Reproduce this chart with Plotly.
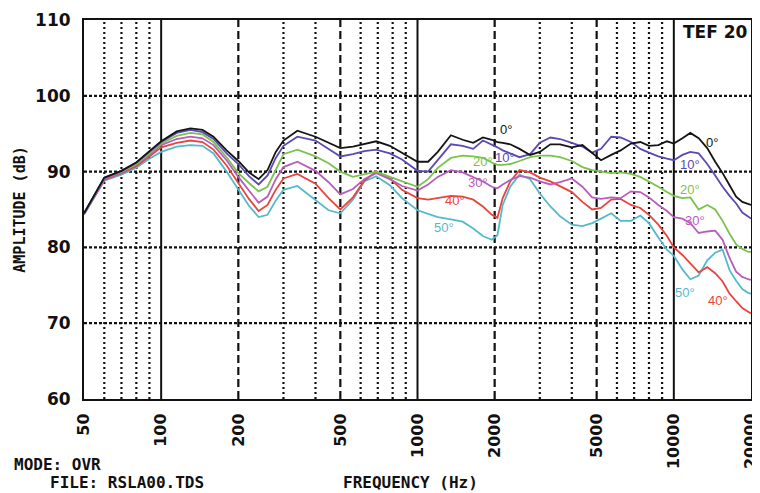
import plotly.graph_objects as go

# ---------------- data ----------------
freq = [50, 55, 60, 70, 80, 90, 100, 115, 130, 145, 160, 180, 200, 220, 240, 260, 280, 300, 340,
        400, 450, 500, 560, 620, 690, 780, 870, 1000, 1100, 1200, 1350, 1500, 1650, 1800, 1950,
        2050, 2150, 2300, 2500, 2750, 3000, 3300, 3600, 4000, 4400, 4800, 5200, 5700, 6200, 6800,
        7400, 8000, 8700, 9400, 10000, 10800, 11600, 12500, 13500, 14500, 15500, 16500, 17500,
        18500, 19500, 20000]

db_0 = [84.5, 86.9, 89.2, 90.1, 91.2, 92.7, 94.0, 95.3, 95.7, 95.5, 94.6, 92.8, 91.4, 89.9, 89.0,
        90.2, 92.6, 94.1, 95.4, 94.6, 93.8, 93.1, 93.3, 93.6, 94.0, 93.4, 92.5, 91.3, 91.3, 92.6,
        94.8, 94.2, 93.8, 94.5, 94.2, 93.9, 93.8, 93.6, 93.0, 92.2, 92.6, 93.6, 93.6, 93.2, 93.5,
        92.5, 91.5, 92.2, 92.8, 93.7, 93.9, 93.4, 93.5, 94.0, 93.7, 94.4, 95.1, 94.4, 93.1, 91.3,
        89.8, 88.2, 86.7, 86.0, 85.7, 85.6]

db_10 = [84.5, 86.9, 89.2, 90.1, 91.2, 92.6, 93.9, 95.1, 95.5, 95.2, 94.3, 92.4, 91.0, 89.4, 88.3,
         89.5, 91.8, 93.4, 94.6, 94.1, 93.0, 92.0, 92.3, 92.7, 92.9, 92.4, 91.6, 90.1, 90.0, 91.5,
         93.6, 93.4, 93.0, 94.1, 93.6, 93.2, 92.8, 92.4, 91.9, 92.3, 93.8, 94.5, 94.3, 93.8, 93.3,
         92.5, 93.0, 94.6, 94.5, 93.9, 93.0, 92.5, 92.0, 91.7, 91.5, 92.2, 92.6, 92.4, 91.0, 89.5,
         88.0, 86.8, 85.8, 84.6, 84.0, 83.8]

db_20 = [84.5, 86.9, 89.2, 90.0, 91.0, 92.4, 93.7, 94.7, 95.1, 94.9, 93.9, 91.9, 89.8, 88.5, 87.4,
         88.0, 90.3, 92.3, 92.9, 92.0, 91.1, 90.0, 89.3, 89.6, 90.0, 89.3, 88.7, 88.0, 89.0, 90.5,
         91.8, 92.1, 92.0, 91.8, 91.2, 90.9, 90.9, 91.0, 91.4, 91.9, 92.1, 92.1, 91.9, 91.4, 90.6,
         90.2, 90.0, 89.8, 89.9, 89.7, 89.3, 88.7, 88.0, 87.3, 86.8, 86.5, 86.6, 85.0, 85.6, 85.0,
         83.5, 81.8, 80.4, 79.8, 79.4, 79.4]

db_30 = [84.4, 86.8, 89.0, 89.9, 90.9, 92.2, 93.5, 94.3, 94.6, 94.4, 93.5, 91.5, 89.3, 87.5, 85.9,
         86.7, 89.0, 90.6, 91.3, 90.1, 88.6, 87.0, 87.7, 89.0, 89.8, 89.0, 88.1, 87.5, 88.3, 89.3,
         90.2, 89.9, 89.3, 88.7, 88.0, 87.8, 88.3, 88.9, 89.4, 89.2, 88.7, 88.3, 88.6, 89.1, 88.0,
         86.6, 86.4, 86.6, 86.5, 87.4, 87.3, 86.6, 85.6, 84.8, 84.0, 83.8, 83.2, 81.9, 82.1, 82.2,
         81.0, 78.6, 76.8, 76.1, 75.8, 75.7]

db_40 = [84.4, 86.7, 88.9, 89.8, 90.7, 92.0, 93.2, 93.8, 94.1, 93.9, 92.9, 90.8, 88.4, 86.4, 84.8,
         85.6, 87.6, 89.1, 89.7, 88.4, 86.5, 85.0, 86.6, 88.8, 90.0, 89.1, 87.6, 86.5, 86.3, 86.5,
         86.8, 86.7, 86.3, 85.4, 84.3, 83.9, 86.5, 88.7, 90.2, 89.9, 89.2, 88.7, 88.1, 87.3, 86.0,
         85.0, 85.2, 86.3, 86.4, 85.6, 85.2, 84.3, 83.0, 81.5, 80.0, 79.0, 77.9, 76.7, 77.4, 76.6,
         75.5, 73.9, 72.9, 72.0, 71.5, 71.3]

db_50 = [84.3, 86.6, 88.8, 89.6, 90.5, 91.7, 92.6, 93.3, 93.5, 93.4, 92.4, 90.0, 87.6, 85.5, 84.0,
         84.3, 86.2, 87.6, 88.1, 86.2, 84.9, 84.5, 86.3, 88.7, 89.4, 88.2, 86.5, 84.9, 84.4, 84.0,
         83.7, 83.4, 82.5, 81.5, 81.0, 81.6, 85.6, 88.0, 89.6, 89.0, 87.1, 85.4, 84.1, 83.0, 82.8,
         83.2, 83.8, 84.5, 83.5, 83.5, 84.2, 83.2, 81.3, 79.7, 78.9, 77.1, 75.8, 76.3, 78.3, 79.3,
         79.7, 77.0, 75.6, 74.5, 74.0, 73.9]

series_names = ["0°", "10°", "20°", "30°", "40°", "50°"]
series_values = [db_0, db_10, db_20, db_30, db_40, db_50]
series_colors = ["#141414", "#5a4ab4", "#7cc24e", "#b95cbc", "#e8453c", "#55b9cc"]

x_tick_vals = [50, 100, 200, 500, 1000, 2000, 5000, 10000, 20000]
x_tick_text = ["50", "100", "200", "500", "1000", "2000", "5000", "10000", "20000"]
y_tick_vals = [60, 70, 80, 90, 100, 110]
y_tick_text = ["60", "70", "80", "90", "100", "110"]

grid_solid_x = [100, 1000, 10000]
grid_dash_x = [200, 500, 2000, 5000]
grid_dot_x = [60, 70, 80, 90, 300, 400, 600, 700, 800, 900,
              3000, 4000, 6000, 7000, 8000, 9000]
grid_y = [70, 80, 90, 100]

# label positions (log10 frequency, dB)
left_label_pos = [(3.346, 95.6), (3.342, 91.8), (3.256, 91.3), (3.236, 88.6), (3.147, 86.2), (3.104, 82.6)]
right_label_pos = [(4.149, 93.9), (4.063, 90.9), (4.063, 87.6), (4.083, 83.6), (4.173, 73.0), (4.044, 74.0)]

# ---------------- figure ----------------
fig = go.Figure()


def vlines(xs):
    xx, yy = [], []
    for v in xs:
        xx += [v, v, None]
        yy += [60, 110, None]
    return xx, yy


def hlines(ys):
    xx, yy = [], []
    for v in ys:
        xx += [50, 20000, None]
        yy += [v, v, None]
    return xx, yy


gx, gy = vlines(grid_dot_x)
fig.add_trace(go.Scatter(x=gx, y=gy, mode="lines", hoverinfo="skip", showlegend=False,
                         line=dict(color="#111", width=2.2, dash="2px,3px")))
gx, gy = vlines(grid_dash_x)
fig.add_trace(go.Scatter(x=gx, y=gy, mode="lines", hoverinfo="skip", showlegend=False,
                         line=dict(color="#111", width=2.2, dash="8px,4px")))
gx, gy = vlines(grid_solid_x)
fig.add_trace(go.Scatter(x=gx, y=gy, mode="lines", hoverinfo="skip", showlegend=False,
                         line=dict(color="#111", width=2)))
gx, gy = hlines(grid_y)
fig.add_trace(go.Scatter(x=gx, y=gy, mode="lines", hoverinfo="skip", showlegend=False,
                         line=dict(color="#111", width=2.2, dash="3px,2px")))

for name, vals, col in list(zip(series_names, series_values, series_colors))[::-1]:
    fig.add_trace(go.Scatter(x=freq, y=vals, mode="lines", name=name, showlegend=False,
                             line=dict(color=col, width=1.8)))

annotations = []
for name, col, (lx, ly) in zip(series_names, series_colors, left_label_pos):
    annotations.append(dict(x=lx, y=ly, xref="x", yref="y", text=name, showarrow=False,
                            font=dict(family="Liberation Sans", size=13, color=col)))
for name, col, (lx, ly) in zip(series_names, series_colors, right_label_pos):
    annotations.append(dict(x=lx, y=ly, xref="x", yref="y", text=name, showarrow=False,
                            font=dict(family="Liberation Sans", size=13, color=col)))

mono = "DejaVu Sans Mono"
annotations += [
    dict(x=1.0, y=1.0, xref="paper", yref="paper", xanchor="right", yanchor="top",
         text="TEF 20", showarrow=False, xshift=-1, yshift=0,
         font=dict(family="DejaVu Sans", size=17, color="#111", weight="bold")),
    dict(x=-0.108, y=-0.174, xref="paper", yref="paper", xanchor="left", yanchor="middle",
         text="MODE: OVR", showarrow=False,
         font=dict(family=mono, size=16, color="#111", weight="bold")),
    dict(x=-0.054, y=-0.221, xref="paper", yref="paper", xanchor="left", yanchor="middle",
         text="FILE: RSLA00.TDS", showarrow=False,
         font=dict(family=mono, size=16, color="#111", weight="bold")),
    dict(x=0.385, y=-0.221, xref="paper", yref="paper", xanchor="left", yanchor="middle",
         text="FREQUENCY (Hz)", showarrow=False,
         font=dict(family=mono, size=16, color="#111", weight="bold")),
]

# the page body adds an 8px offset, so the figure is sized to fit the window
fig.update_layout(
    width=752, height=485,
    margin=dict(l=76, r=9, t=12, b=94),
    paper_bgcolor="white", plot_bgcolor="white",
    annotations=annotations,
    xaxis=dict(type="log", range=[1.69897, 4.30106], tickvals=x_tick_vals, ticktext=x_tick_text,
               tickangle=-90, showgrid=False, zeroline=False, ticks="", automargin=False,
               ticklabeloverflow="allow",
               showline=True, mirror=True, linecolor="#111", linewidth=2,
               ticklabelstandoff=6,
               tickfont=dict(family="DejaVu Sans", size=16, color="#111", weight="bold")),
    yaxis=dict(range=[60, 110], tickvals=y_tick_vals, ticktext=y_tick_text,
               showgrid=False, zeroline=False, ticks="", automargin=False,
               showline=True, mirror=True, linecolor="#111", linewidth=2,
               ticklabelstandoff=8,
               tickfont=dict(family="DejaVu Sans", size=17, color="#111", weight="bold"),
               title=dict(text="AMPLITUDE (dB)", standoff=6,
                          font=dict(family=mono, size=15, color="#111", weight="bold"))),
)

fig.write_html("out.html")
